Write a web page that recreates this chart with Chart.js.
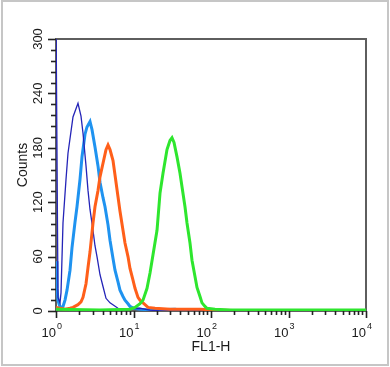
<!DOCTYPE html>
<html><head><meta charset="utf-8">
<script src="https://cdn.jsdelivr.net/npm/chart.js@4/dist/chart.umd.min.js"></script>
<style>
html,body{margin:0;padding:0;background:#fff;}
#wrap{position:relative;width:390px;height:367px;overflow:hidden;}
#frame{position:absolute;left:1px;top:0;width:384px;height:362px;border:2px solid #c6c6c6;}
canvas{position:absolute;left:0;top:0;}
</style></head><body>
<div id="wrap"><div id="frame"></div><canvas id="c" width="390" height="367"></canvas></div>
<script>
// FL1-H channel values (x) and event counts (y) per histogram
const darkBlueX = [1.000,1.030,1.061,1.126,1.160,1.231,1.346,1.428,1.657,1.922,2.102,2.231,2.439,2.588,2.746,3.002,3.185,3.381,3.696,4.042,4.418,4.976,5.604,6.310,7.105,9.012,12.13,16.33,21.98,10000];
const darkBlueY = [330,330,15,9,20,97,145,174,214,229,215,196,160,133,112,89,72,60,40,27,14,9,6,3,1,2,3,1,0,0];

const lightBlueX = [1.000,1.030,1.061,1.126,1.231,1.307,1.387,1.516,1.609,1.759,1.866,2.040,2.165,2.367,2.512,2.746,2.914,3.185,3.483,3.696,4.042,4.289,4.690,4.976,5.440,5.773,6.310,6.695,7.319,7.767,8.492,9.012,10.15,12.13,16.33,34.32,39.81,72.12,10000];
const lightBlueY = [55,25,12,4,5,12,23,45,70,98,115,145,170,195,203,209,200,181,160,142,125,115,95,78,58,45,32,23,16,12,8,5,3,2,1,2,1,0,0];

const orangeX = [1.000,1.126,1.307,1.516,1.657,1.922,2.102,2.231,2.439,2.588,2.746,3.002,3.185,3.483,3.696,4.042,4.418,4.690,4.976,5.440,5.773,6.310,6.695,7.319,7.767,8.492,9.012,9.852,10.46,11.43,12.13,13.27,15.39,18.94,29.58,72.12,112.6,318.6,10000];
const orangeY = [4,3,2,3,4,7,10,15,30,48,65,97,115,133,148,163,178,183,178,166,150,126,110,89,75,60,47,34,25,15,12,9,4,3,2,2,1,0,0];

const greenX = [1.000,3.696,9.012,10.46,12.13,13.27,14.94,16.33,17.85,20.11,21.98,24.03,27.06,29.58,31.40,33.32,36.42,39.81,42.25,46.18,49.01,53.58,56.86,62.15,65.96,72.12,76.55,83.68,88.80,112.6,175.9,10000];
const greenY = [2,1,2,4,8,12,25,42,62,89,130,152,178,188,191,186,170,152,137,115,97,75,56,38,26,16,9,5,3,2,1,1];

const xTicks = [1, 10, 100, 1000, 10000];
const xTickExp = ['0', '1', '2', '3', '4'];
const yTicks = [0, 60, 120, 180, 240, 300];
const xTitle = 'FL1-H';
const yTitle = 'Counts';

function pts(xs, ys) { return xs.map((x, i) => ({ x: x, y: ys[i] })); }

const FONT = '"Liberation Sans", Arial, Helvetica, sans-serif';

const decor = {
  id: 'decor',
  beforeDatasetsDraw(chart) {
    const { ctx, chartArea: a } = chart;
    ctx.save();
    ctx.strokeStyle = '#5e5e5e';
    ctx.lineWidth = 2;
    ctx.strokeRect(a.left, a.top, a.right - a.left, a.bottom - a.top);
    ctx.restore();
  },
  afterDraw(chart) {
    const { ctx, chartArea: a, scales } = chart;
    const xs = scales.x, ys = scales.y;
    ctx.save();
    ctx.strokeStyle = '#222';
    ctx.lineWidth = 1.6;
    // y ticks: majors from yTicks, minors in between (5 per major step)
    const yStep = (yTicks[1] - yTicks[0]) / 5;
    for (let v = yTicks[0]; v <= yTicks[yTicks.length - 1] + 1e-9; v += yStep) {
      const py = Math.round(ys.getPixelForValue(v)) + 0.5;
      const major = yTicks.some(t => Math.abs(t - v) < 1e-6);
      ctx.beginPath();
      ctx.moveTo(a.left, py);
      ctx.lineTo(a.left - (major ? 8 : 5), py);
      ctx.stroke();
    }
    // x ticks: decades major, 2..9 minor
    for (let d = 0; d < xTicks.length; d++) {
      const base = xTicks[d];
      const px = Math.round(xs.getPixelForValue(base)) + 0.5;
      ctx.beginPath();
      ctx.moveTo(px, a.bottom);
      ctx.lineTo(px, a.bottom + 7);
      ctx.stroke();
      if (d < xTicks.length - 1) {
        for (let m = 2; m <= 9; m++) {
          const mx = Math.round(xs.getPixelForValue(base * m)) + 0.5;
          ctx.beginPath();
          ctx.moveTo(mx, a.bottom);
          ctx.lineTo(mx, a.bottom + 4);
          ctx.stroke();
        }
      }
    }
    ctx.fillStyle = '#1a1a1a';
    // y tick labels (rotated)
    ctx.font = '13px ' + FONT;
    ctx.textAlign = 'center';
    ctx.textBaseline = 'alphabetic';
    yTicks.forEach(v => {
      const py = ys.getPixelForValue(v);
      ctx.save();
      ctx.translate(42, py);
      ctx.rotate(-Math.PI / 2);
      ctx.fillText(String(v), 0, 0);
      ctx.restore();
    });
    // x tick labels with superscript exponents
    xTicks.forEach((v, i) => {
      const px = xs.getPixelForValue(v);
      ctx.font = '13px ' + FONT;
      ctx.textAlign = 'right';
      ctx.fillText('10', px, 337);
      ctx.font = '9px ' + FONT;
      ctx.textAlign = 'left';
      ctx.fillText(xTickExp[i], px + 1, 329);
    });
    // axis titles
    ctx.font = '14px ' + FONT;
    ctx.textAlign = 'center';
    ctx.fillText(xTitle, (a.left + a.right) / 2, 351);
    ctx.save();
    ctx.translate(27, 165);
    ctx.rotate(-Math.PI / 2);
    ctx.fillText(yTitle, 0, 0);
    ctx.restore();
    ctx.restore();
  }
};

new Chart(document.getElementById('c'), {
  type: 'line',
  data: {
    datasets: [
      { label: 'Green', data: pts(greenX, greenY), borderColor: '#2ee62e', borderWidth: 3, order: 1 },
      { label: 'Orange', data: pts(orangeX, orangeY), borderColor: '#ff5f1a', borderWidth: 3, order: 2 },
      { label: 'Dark blue', data: pts(darkBlueX, darkBlueY), borderColor: '#2424b8', borderWidth: 1.3, order: 3 },
      { label: 'Light blue', data: pts(lightBlueX, lightBlueY), borderColor: '#1f93f0', borderWidth: 3, order: 4 }
    ]
  },
  options: {
    responsive: false,
    animation: false,
    parsing: true,
    elements: { point: { radius: 0 }, line: { tension: 0, fill: false, borderJoinStyle: 'miter' } },
    layout: { padding: { left: 0, right: 24, top: 39, bottom: 0 } },
    plugins: { legend: { display: false }, tooltip: { enabled: false } },
    scales: {
      x: {
        type: 'logarithmic', min: 1, max: 10000,
        grid: { display: false, drawTicks: false },
        border: { display: false },
        ticks: { display: false },
        afterFit(s) { s.height = 56; }
      },
      y: {
        type: 'linear', min: 0, max: 300,
        grid: { display: false, drawTicks: false },
        border: { display: false },
        ticks: { display: false, stepSize: 60 },
        afterFit(s) { s.width = 56; }
      }
    }
  },
  plugins: [decor]
});
</script>
</body></html>
